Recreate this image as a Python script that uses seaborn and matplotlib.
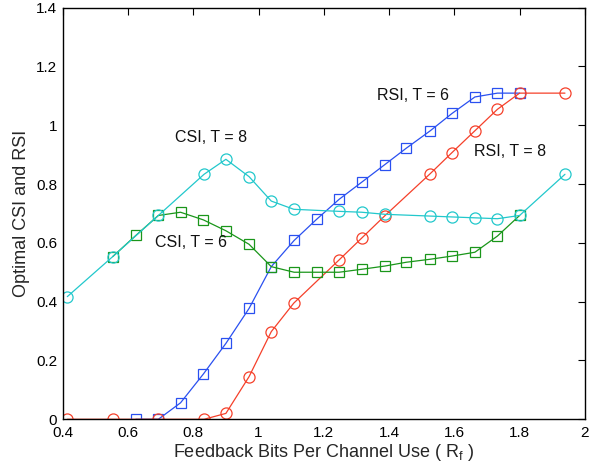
import matplotlib
matplotlib.use("Agg")
import matplotlib.pyplot as plt
import seaborn as sns
import numpy as np

sns.set_theme(style="white")
plt.rcParams['font.family'] = ['Liberation Sans', 'DejaVu Sans']
plt.rcParams['mathtext.fontset'] = 'custom'
plt.rcParams['mathtext.rm'] = 'Liberation Sans'
plt.rcParams['mathtext.it'] = 'Liberation Sans'

# T = 8 grid
x_t8 = [0.414, 0.553, 0.693, 0.833, 0.900, 0.971, 1.039, 1.108, 1.247, 1.316,
        1.387, 1.525, 1.593, 1.663, 1.732, 1.800, 1.939]
csi_t8 = [0.417, 0.553, 0.693, 0.833, 0.884, 0.825, 0.742, 0.714, 0.707, 0.704,
          0.697, 0.691, 0.688, 0.685, 0.682, 0.693, 0.833]
rsi_t8 = [0.0, 0.0, 0.0, 0.0, 0.020, 0.145, 0.298, 0.395, 0.542, 0.616,
          0.692, 0.834, 0.907, 0.981, 1.054, 1.109, 1.109]

# T = 6 grid
x_csi6 = [0.553, 0.624, 0.693, 0.761, 0.831, 0.900, 0.971, 1.039, 1.109, 1.178,
          1.247, 1.316, 1.387, 1.453, 1.525, 1.593, 1.663, 1.732, 1.800]
csi_t6 = [0.553, 0.625, 0.693, 0.704, 0.678, 0.641, 0.595, 0.519, 0.500, 0.500,
          0.500, 0.510, 0.521, 0.534, 0.544, 0.555, 0.568, 0.623, 0.693]
x_rsi6 = [0.624, 0.693, 0.761, 0.831, 0.900, 0.971, 1.039, 1.109, 1.178,
          1.247, 1.316, 1.387, 1.453, 1.525, 1.593, 1.663, 1.732, 1.800]
rsi_t6 = [0.0, 0.0, 0.056, 0.154, 0.258, 0.377, 0.519, 0.608, 0.680,
          0.748, 0.806, 0.866, 0.922, 0.980, 1.040, 1.096, 1.109, 1.109]

labels = ["CSI, T = 8", "RSI, T = 6", "RSI, T = 8", "CSI, T = 6"]
label_pos_x = [0.854, 1.473, 1.770, 0.793]
label_pos_y = [0.958, 1.101, 0.910, 0.601]

c_cyan = "#22c8cc"
c_blue = "#2a50f0"
c_red = "#f5402a"
c_green = "#1a961a"

fig = plt.figure(figsize=(5.89, 4.72), dpi=100)
ax = fig.add_axes([0.1065, 0.1117, 0.8865, 0.8723])

common = dict(estimator=None, sort=False, linewidth=0.9, markerfacecolor='none',
              markeredgewidth=0.9, ax=ax, legend=False)
sns.lineplot(x=x_rsi6, y=rsi_t6, color=c_blue, marker='s', markersize=6.5,
             markeredgecolor=c_blue, **common)
sns.lineplot(x=x_t8, y=rsi_t8, color=c_red, marker='o', markersize=8,
             markeredgecolor=c_red, **common)
sns.lineplot(x=x_csi6, y=csi_t6, color=c_green, marker='s', markersize=6.5,
             markeredgecolor=c_green, **common)
sns.lineplot(x=x_t8, y=csi_t8, color=c_cyan, marker='o', markersize=8,
             markeredgecolor=c_cyan, **common)

for t, lx, ly in zip(labels, label_pos_x, label_pos_y):
    ax.text(lx, ly, t, ha='center', va='center', fontsize=11.5, color='#111111')

ax.set_xlim(0.4, 2.0)
ax.set_ylim(0, 1.4)
ax.set_xticks(np.arange(0.4, 2.01, 0.2))
ax.set_xticklabels(["0.4", "0.6", "0.8", "1", "1.2", "1.4", "1.6", "1.8", "2"])
ax.set_yticks(np.arange(0, 1.41, 0.2))
ax.set_yticklabels(["0", "0.2", "0.4", "0.6", "0.8", "1", "1.2", "1.4"])
ax.tick_params(direction='in', length=5, width=0.8, top=True, right=True,
               labelsize=11, colors='black')
ax.tick_params(axis='x', pad=5)
ax.tick_params(axis='y', pad=4)
for s in ax.spines.values():
    s.set_color('black')
    s.set_linewidth(1.0)
ax.set_xlabel("Feedback Bits Per Channel Use ( R$_{\\rm f}$ )", fontsize=13, labelpad=1)
ax.set_ylabel("Optimal CSI and RSI", fontsize=13, labelpad=4)
ax.grid(False)

fig.savefig("out.png", dpi=100)
